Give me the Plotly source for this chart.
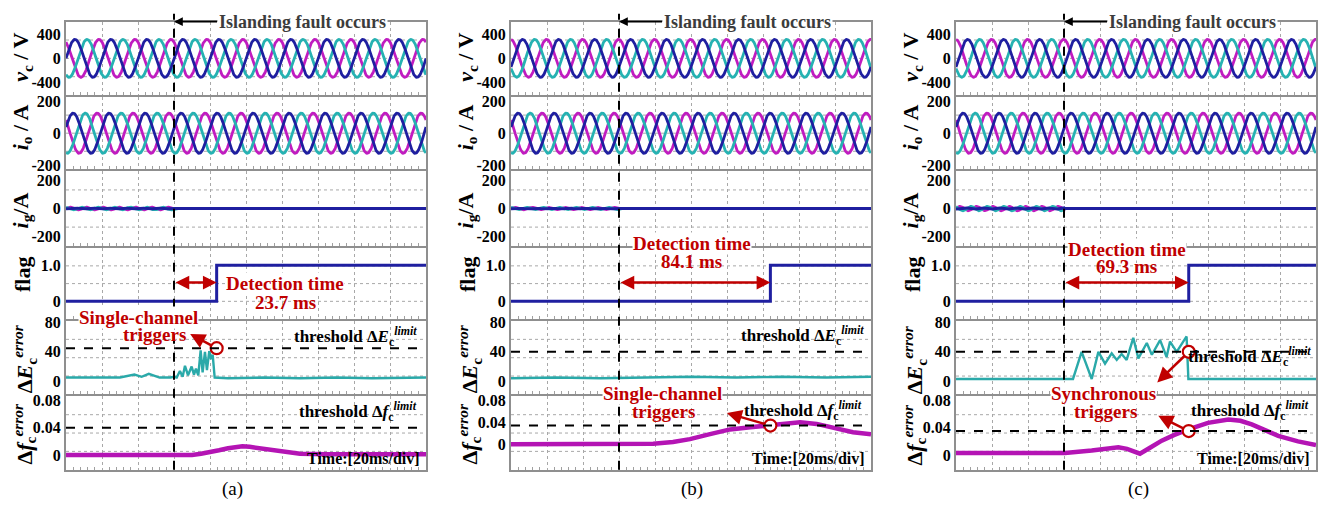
import numpy as np
import plotly.graph_objects as go

W, H = 1327, 506

# ---------------- data ----------------
panel_labels = ["(a)", "(b)", "(c)"]
span_ms = 200
div_ms = 20
fault_ms = [60, 60, 60]
detect_ms = [23.7, 84.1, 69.3]
freq_hz = 50

phase_colors = ["#C01CC0", "#26B2B2", "#1F1FA0"]  # magenta, teal, blue (drawn in this order)
vc_amp = [310, 310, 310]
io_amp = [125, 125, 125]
# time (ms) of first positive peak for magenta, teal, blue
vc_peak_ms = [[18.3, 11.7, 5.0], [19.8, 13.2, 6.5], [19.8, 13.2, 6.5]]
io_peak_ms = [[17.3, 10.7, 4.0], [17.3, 10.7, 4.0], [17.3, 10.7, 4.0]]
ig_ripple_pre = [9, 8, 15]     # small grid-current ripple before the fault (A)

flag_low, flag_high = 0.0, 1.02

dE_threshold = [45, 40, 40]
df_threshold = [0.04, 0.034, 0.035]

dE_t = [
    [0, 10, 20, 30, 38, 42, 46, 52, 58, 60, 61.5, 63.3, 64.8, 66.1, 67.8, 69.8, 71.1, 72.2, 73.5,
     74.8, 75.9, 77.2, 78.3, 79.6, 80.6, 81.5, 82.6, 90, 110, 130, 150, 170, 200],
    [0, 25, 50, 75, 100, 125, 150, 175, 200],
    [0, 20, 40, 60, 65, 69.8, 75.4, 79.1, 82.8, 86.5, 89.3, 92, 94.8, 98.5, 101.3, 106, 108.8,
     113.4, 117, 118.9, 122.6, 128.1, 129.1, 150, 175, 200],
]
dE_v = [
    [5, 5, 6, 5, 9, 6, 10, 5, 5, 6, 5, 14, 6, 21, 8, 20, 9, 17, 8,
     42, 12, 40, 15, 41, 30, 36, 5, 4, 5, 4, 5, 4, 5],
    [4, 5, 4, 5, 6, 5, 6, 5, 6],
    [3, 3, 3, 3, 3, 40, 3, 40, 24, 38, 29, 37, 29, 59, 31, 52, 36,
     56, 33, 54, 40, 61, 3, 3, 3, 3],
]
df_t = [
    [0, 70, 75, 80, 85, 90, 95, 98, 102, 108, 115, 122, 130, 145, 200],
    [0, 60, 79, 90, 99.4, 110, 121.7, 133, 143.9, 152, 160.6, 169.8, 176, 182.8, 190, 200],
    [0, 60.6, 75.4, 90.2, 95, 102.2, 108, 114.3, 121, 129.1, 140, 151.3, 158, 164.3, 172, 179, 190, 200],
]
df_v = [
    [0, 0, 0.002, 0.004, 0.007, 0.010, 0.012, 0.013, 0.012, 0.010, 0.007, 0.004, 0.002, 0.001, 0.001],
    [0, 0, 0.001, 0.004, 0.0094, 0.018, 0.027, 0.031, 0.034, 0.037, 0.040, 0.037, 0.032, 0.027, 0.022, 0.018],
    [0.003, 0.003, 0.0067, 0.0114, 0.009, 0.002, 0.011, 0.021, 0.029, 0.0376, 0.047, 0.052, 0.050,
     0.0447, 0.036, 0.028, 0.020, 0.0147],
]

vc_ticks = [-400, 0, 400]
io_ticks = [-200, 0, 200]
ig_ticks = [-200, 0, 200]
flag_ticks = [0, 1.0]
dE_ticks = [0, 40, 80]
df_ticks = [0, 0.04, 0.08]

# ---------------- layout geometry (pixels) ----------------
panel_px = [(66, 426), (511, 871), (956, 1316)]
row_px = [(15, 90), (92, 166), (168, 244), (246.5, 319), (321, 396), (398, 473)]
df_ranges = [[-0.0214, 0.0857], [-0.0462, 0.0871], [-0.0214, 0.0857]]
SERIF = "Liberation Serif"
RED = "#C00000"


def px(x):
    return x / W


def py(y):
    return 1 - y / H


fig = go.Figure()
layout = dict(width=W, height=H, margin=dict(l=0, r=0, t=0, b=0),
              paper_bgcolor="white", plot_bgcolor="white", showlegend=False)
shapes, annotations = [], []

t = np.arange(0, span_ms + 0.001, 0.2)
w = 2 * np.pi * freq_hz / 1000.0


def axname(k):
    return ("x" if k == 1 else f"x{k}"), ("y" if k == 1 else f"y{k}")


def ptext(text, x, y, size, color="black", xanchor="center", bg=None, angle=0):
    return dict(text=text, x=px(x), y=py(y), xref="paper", yref="paper", showarrow=False,
                xanchor=xanchor, yanchor="middle", textangle=angle,
                bgcolor=bg, borderpad=0, font=dict(family=SERIF, size=size, color=color))


row_ranges = [[-600, 600], [-225, 225], [-265, 265], [-0.5, 1.5], [-18, 82], None]
row_ticks = [vc_ticks, io_ticks, ig_ticks, flag_ticks, dE_ticks, df_ticks]
row_ticktext = [["-400", "0", "400"], ["-200", "0", "200"], ["-200", "0", "200"],
                ["0", "1.0"], ["0", "40", "80"], ["0", "0.04", "0.08"]]
row_titles = ["<b><i>v</i><sub>c</sub> / V</b>", "<b><i>i</i><sub>o</sub> / A</b>",
              "<b><i>i</i><sub>g</sub>/A</b>", "<b>flag</b>",
              "<b>Δ<i>E</i><sub>c</sub><sup><i>error</i></sup></b>",
              "<b>Δ<i>f</i><sub>c</sub><sup><i>error</i></sup></b>"]
title_y = [52, 123, 208, 274, 360, 437]
title_dx = [44, 44, 44, 44, 42, 42]

for p in range(3):
    L, R = panel_px[p]
    for r in range(6):
        k = p * 6 + r + 1
        xn, yn = axname(k)
        top, bot = row_px[r]
        yr = row_ranges[r] if r < 5 else df_ranges[p]
        layout["xaxis" if k == 1 else f"xaxis{k}"] = dict(
            domain=[px(L), px(R)], range=[0, span_ms], anchor=yn,
            showline=True, mirror=True, linecolor="#8f8f8f", linewidth=2,
            showgrid=True, gridcolor="#a8a8a8", griddash="dot", gridwidth=1,
            tick0=0, dtick=div_ms, ticks="", showticklabels=False, zeroline=False,
            minor=dict(dtick=4, ticks="inside", ticklen=3, tickcolor="#a0a0a0", showgrid=False),
        )
        layout["yaxis" if k == 1 else f"yaxis{k}"] = dict(
            domain=[py(bot), py(top)], range=yr, anchor=xn,
            showline=True, mirror=True, linecolor="#8f8f8f", linewidth=2,
            showgrid=False, zeroline=False, ticks="",
            tickmode="array", tickvals=row_ticks[r], ticktext=row_ticktext[r],
            tickfont=dict(family=SERIF, size=16, color="black", weight="bold"),
        )
        for f in (0.25, 0.5, 0.75):
            shapes.append(dict(type="line", xref=f"{xn} domain", yref=f"{yn} domain",
                               x0=0, x1=1, y0=f, y1=f, layer="below",
                               line=dict(color="#a8a8a8", width=1, dash="dot")))
        annotations.append(ptext(row_titles[r], L - title_dx[r], title_y[r], 22, angle=-90))

    kv = p * 6 + 1
    xv, yv = axname(kv)
    # v_c and i_o: three-phase waveforms
    for ci, col in enumerate(phase_colors):
        fig.add_trace(go.Scatter(x=t, y=vc_amp[p] * np.cos(w * (t - vc_peak_ms[p][ci])),
                                 xaxis=xv, yaxis=yv, mode="lines",
                                 line=dict(color=col, width=2.8), hoverinfo="skip"))
    xi, yi = axname(kv + 1)
    for ci, col in enumerate(phase_colors):
        fig.add_trace(go.Scatter(x=t, y=io_amp[p] * np.cos(w * (t - io_peak_ms[p][ci])),
                                 xaxis=xi, yaxis=yi, mode="lines",
                                 line=dict(color=col, width=2.8), hoverinfo="skip"))
    # i_g
    xg, yg = axname(kv + 2)
    pre = t <= fault_ms[p]
    for ci, col in enumerate(phase_colors):
        amp = ig_ripple_pre[p] if ci < 2 else ig_ripple_pre[p] * 0.3
        yvals = np.where(pre, amp * np.sin(w * 2.2 * t + ci * 2.1), 0.0)
        fig.add_trace(go.Scatter(x=t, y=yvals, xaxis=xg, yaxis=yg, mode="lines",
                                 line=dict(color=col, width=3), hoverinfo="skip"))
    # flag
    xf, yf = axname(kv + 3)
    step = fault_ms[p] + detect_ms[p]
    fig.add_trace(go.Scatter(x=[0, step, step, span_ms], y=[flag_low, flag_low, flag_high, flag_high],
                             xaxis=xf, yaxis=yf, mode="lines",
                             line=dict(color="#1F1FA0", width=3), hoverinfo="skip"))
    # delta E
    xe, ye = axname(kv + 4)
    fig.add_trace(go.Scatter(x=dE_t[p], y=dE_v[p], xaxis=xe, yaxis=ye, mode="lines",
                             line=dict(color="#2AA9A9", width=2.4), hoverinfo="skip"))
    shapes.append(dict(type="line", xref=f"{xe} domain", yref=ye, x0=0, x1=1,
                       y0=dE_threshold[p], y1=dE_threshold[p],
                       line=dict(color="black", width=2, dash="dash")))
    # delta f
    xd, yd = axname(kv + 5)
    fig.add_trace(go.Scatter(x=df_t[p], y=df_v[p], xaxis=xd, yaxis=yd, mode="lines",
                             line=dict(color="#B414B4", width=4.5), hoverinfo="skip"))
    shapes.append(dict(type="line", xref=f"{xd} domain", yref=yd, x0=0, x1=1,
                       y0=df_threshold[p], y1=df_threshold[p],
                       line=dict(color="black", width=2, dash="dash")))

    # fault line across all rows
    shapes.append(dict(type="line", xref=xv, yref="paper", x0=fault_ms[p], x1=fault_ms[p],
                       y0=py(473), y1=py(7), line=dict(color="black", width=2, dash="dash")))
    # islanding annotation
    annotations.append(dict(text="<b>Islanding fault occurs</b>", x=fault_ms[p], xref=xv,
                            y=py(15), yref="paper", ax=128, ay=0, showarrow=True,
                            xanchor="center", yanchor="middle",
                            arrowhead=2, arrowsize=1.1, arrowwidth=1.6, arrowcolor="black",
                            bgcolor="white", borderpad=1,
                            font=dict(family=SERIF, size=18, color="#3c3c3c")))
    # detection time double arrow
    annotations.append(dict(text="", x=step, y=0.53, xref=xf, yref=yf,
                            ax=fault_ms[p], ay=0.53, axref=xf, ayref=yf, showarrow=True,
                            arrowhead=2, startarrowhead=2, arrowside="end+start",
                            arrowsize=1.1, startarrowsize=1.1, arrowwidth=2.5, arrowcolor=RED))
    det_pos = [(219, 283, 302), (180.7, 241.7, 260), (170.7, 247.7, 265)][p]
    annotations.append(ptext("<b>Detection time</b>", L + det_pos[0], det_pos[1], 19, RED, bg="white"))
    annotations.append(ptext(f"<b>{detect_ms[p]} ms</b>", L + det_pos[0], det_pos[2], 19, RED))
    # threshold labels
    thr_pos = [((418, 337), (418, 413)), ((865, 336), (863, 412)),
               ((1312, 357), (1310, 412))][p]
    annotations.append(ptext("<b>threshold Δ<i>E</i><sub>c</sub><sup><i>limit</i></sup></b>",
                             thr_pos[0][0], thr_pos[0][1], 17, xanchor="right"))
    annotations.append(ptext("<b>threshold Δ<i>f</i><sub>c</sub><sup><i>limit</i></sup></b>",
                             thr_pos[1][0], thr_pos[1][1], 17, xanchor="right"))
    annotations.append(ptext("<b>Time:[20ms/div]</b>", R - 5, 462, 16, xanchor="right"))
    annotations.append(ptext(panel_labels[p], [232, 692, 1138][p], 493, 19))

# trigger markers (circles at detection instant on threshold) and arrows to the labels
trig = [  # (panel, row, arrow-head offset from the circle in pixels)
    (0, 4, (-28, -15)),
    (1, 5, (-45, -13)),
    (2, 4, (-33, 32)),
    (2, 5, (-32, -16)),
]
for p, r, off in trig:
    k = p * 6 + r + 1
    xn, yn = axname(k)
    step = fault_ms[p] + detect_ms[p]
    yval = dE_threshold[p] if r == 4 else df_threshold[p]
    annotations.append(dict(text="", x=step, y=yval, xref=xn, yref=yn,
                            ax=off[0], ay=off[1], showarrow=True, arrowside="start",
                            startarrowhead=2, startarrowsize=1.2, arrowwidth=2.5, arrowcolor=RED,
                            standoff=6))
    fig.add_trace(go.Scatter(x=[step], y=[yval], xaxis=xn, yaxis=yn, mode="markers",
                             marker=dict(symbol="circle", size=12, color="white",
                                         line=dict(color=RED, width=2.2)),
                             hoverinfo="skip", cliponaxis=False))

trig_text = [
    ("Single-channel", 138, 317, "white"), ("triggers", 154, 335, None),
    ("Single-channel", 662, 395, "white"), ("triggers", 664, 413, None),
    ("Synchronous", 1103, 395, "white"), ("triggers", 1105.5, 413, None),
]
for txt, x, y, bg in trig_text:
    annotations.append(ptext(f"<b>{txt}</b>", x, y, 19, RED, bg=bg))

layout["shapes"] = shapes
layout["annotations"] = annotations
fig.update_layout(**layout)
fig.write_html("out.html")
